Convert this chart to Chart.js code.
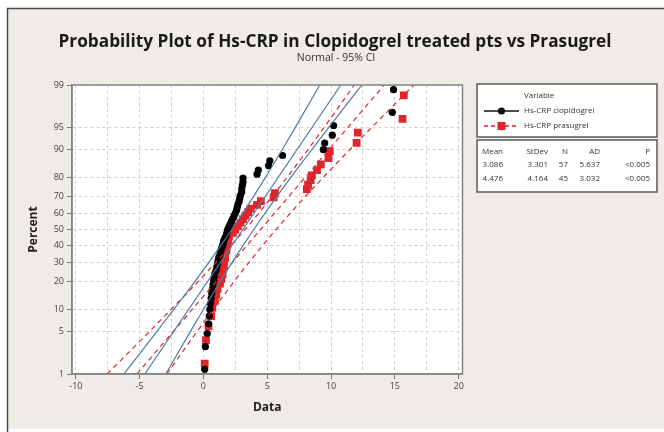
<!DOCTYPE html>
<html><head><meta charset="utf-8">
<script src="https://cdn.jsdelivr.net/npm/chart.js@4.4.1/dist/chart.umd.min.js"></script>
<style>html,body{margin:0;padding:0;background:#fff;}canvas{display:block;}</style>
</head><body>
<canvas id="c" width="664" height="432"></canvas>
<script>
// ---- data ----
const seriesNames = ['Hs-CRP clopidogrel', 'Hs-CRP prasugrel'];
const clopidogrelValues = [0.1,0.15,0.3,0.4,0.45,0.5,0.55,0.6,0.65,0.7,0.75,0.8,0.85,0.9,1.0,1.05,1.1,1.15,1.2,1.3,1.35,1.4,1.5,1.55,1.6,1.7,1.8,1.85,1.9,2.0,2.1,2.2,2.3,2.4,2.5,2.6,2.65,2.7,2.8,2.85,2.9,3.0,3.0,3.05,3.1,3.1,4.2,4.3,5.1,5.2,6.2,9.4,9.5,10.1,10.2,14.8,14.9];
const prasugrelValues = [0.1,0.2,0.4,0.6,0.7,0.9,1.0,1.1,1.3,1.4,1.5,1.5,1.6,1.6,1.7,1.7,1.8,1.8,1.9,1.95,2.0,2.3,2.5,2.7,2.9,3.1,3.3,3.5,3.7,4.2,4.5,5.5,5.6,8.1,8.2,8.4,8.5,8.9,9.2,9.8,9.9,12.0,12.1,15.6,15.7];
const percentTicks = [1,5,10,20,30,40,50,60,70,80,90,95,99];
const xTickValues = [-10,-7.5,-5,-2.5,0,2.5,5,7.5,10,12.5,15,17.5,20];
const statHeaders = ['Mean','StDev','N','AD','P'];
const statMeans = [3.086, 4.476];
const statStDevs = [3.301, 4.164];
const statNs = [57, 45];
const statADs = ['5.637', '3.032'];
const statPs = ['<0.005', '<0.005'];

// ---- normal quantile (Acklam) ----
function normInv(p){
  const a=[-3.969683028665376e+01,2.209460984245205e+02,-2.759285104469687e+02,1.383577518672690e+02,-3.066479806614716e+01,2.506628277459239e+00];
  const b=[-5.447609879822406e+01,1.615858368580409e+02,-1.556989798598866e+02,6.680131188771972e+01,-1.328068155288572e+01];
  const c=[-7.784894002430293e-03,-3.223964580411365e-01,-2.400758277161838e+00,-2.549732539343734e+00,4.374664141464968e+00,2.938163982698783e+00];
  const d=[7.784695709041462e-03,3.224671290700398e-01,2.445134137142996e+00,3.754408661907416e+00];
  const pl=0.02425, ph=1-pl; let q,r;
  if(p<pl){q=Math.sqrt(-2*Math.log(p));return (((((c[0]*q+c[1])*q+c[2])*q+c[3])*q+c[4])*q+c[5])/((((d[0]*q+d[1])*q+d[2])*q+d[3])*q+1);}
  if(p<=ph){q=p-0.5;r=q*q;return (((((a[0]*r+a[1])*r+a[2])*r+a[3])*r+a[4])*r+a[5])*q/(((((b[0]*r+b[1])*r+b[2])*r+b[3])*r+b[4])*r+1);}
  q=Math.sqrt(-2*Math.log(1-p));return -(((((c[0]*q+c[1])*q+c[2])*q+c[3])*q+c[4])*q+c[5])/((((d[0]*q+d[1])*q+d[2])*q+d[3])*q+1);
}
const zMin = normInv(percentTicks[0]/100), zMax = normInv(percentTicks[percentTicks.length-1]/100);

// probability-plot positions (median ranks) for sorted values
function probPoints(vals){
  const n = vals.length;
  return vals.map((v,i)=>({x:v, y:normInv((i+1-0.3)/(n+0.4))}));
}
// fitted normal line and 95% CI from the table's Mean / StDev / N
function fitLine(k){
  return [zMin,zMax].map(z=>({x:statMeans[k]+statStDevs[k]*z, y:z}));
}
function ciLine(k, sign){
  const pts=[]; const steps=40;
  for(let j=0;j<=steps;j++){
    const z = zMin+(zMax-zMin)*j/steps;
    const se = statStDevs[k]*Math.sqrt(1/statNs[k] + z*z/(2*statNs[k]));
    pts.push({x:statMeans[k]+statStDevs[k]*z + sign*1.96*se, y:z});
  }
  return pts;
}

const BLUE='#4f7ca6', RED='#e0262a', FONT='"Open Sans", "Noto Sans", sans-serif';
const lineDs = (data,color,dash)=>({type:'scatter',data,showLine:true,borderColor:color,borderWidth:1.2,borderDash:dash,pointRadius:0,fill:false,tension:0});

const bgPlugin = {
  id:'bg',
  beforeDraw(chart){
    const ctx=chart.ctx, a=chart.chartArea;
    ctx.save();
    ctx.fillStyle='#ffffff'; ctx.fillRect(0,0,664,432);
    ctx.fillStyle='#efece7'; ctx.fillRect(8,9,656,420);
    ctx.strokeStyle='#4a4a4a'; ctx.lineWidth=1.5;
    ctx.beginPath(); ctx.moveTo(7.5,432); ctx.lineTo(7.5,8.5); ctx.lineTo(664,8.5); ctx.stroke();
    ctx.fillStyle='#ffffff'; ctx.fillRect(a.left,a.top,a.right-a.left,a.bottom-a.top);
    ctx.restore();
  },
  afterDraw(chart){
    const ctx=chart.ctx, a=chart.chartArea;
    ctx.save();
    ctx.strokeStyle='#858585'; ctx.lineWidth=1.5;
    ctx.strokeRect(a.left,a.top,a.right-a.left,a.bottom-a.top);
    // title
    const title='Probability Plot of Hs-CRP in Clopidogrel treated pts vs Prasugrel';
    ctx.font='bold 20px '+FONT;
    let s=20*553/ctx.measureText(title).width;
    ctx.font='bold '+s.toFixed(2)+'px '+FONT;
    ctx.fillStyle='#1a1a1a'; ctx.textAlign='center'; ctx.textBaseline='alphabetic';
    ctx.fillText(title,335,47);
    ctx.font='10.5px '+FONT; ctx.fillStyle='#333';
    ctx.fillText('Normal - 95% CI',336,61);
    // axis titles
    ctx.font='bold 12px '+FONT; ctx.fillStyle='#222'; ctx.textBaseline='middle';
    ctx.fillText('Data',(a.left+a.right)/2,408);
    ctx.save(); ctx.translate(34,(a.top+a.bottom)/2); ctx.rotate(-Math.PI/2);
    ctx.fillText('Percent',0,0); ctx.restore();
    // legend box
    ctx.fillStyle='#ffffff'; ctx.fillRect(477,84,180,53);
    ctx.strokeStyle='#5a5a5a'; ctx.lineWidth=1.5; ctx.strokeRect(477,84,180,53);
    ctx.font='8px '+FONT; ctx.fillStyle='#333'; ctx.textAlign='left';
    ctx.fillText('Variable',524,96);
    const legY=[111,126];
    const lcol=['#111',RED];
    for(let k=0;k<2;k++){
      ctx.strokeStyle=lcol[k]; ctx.lineWidth=1.3; ctx.setLineDash(k?[4,3]:[]);
      ctx.beginPath(); ctx.moveTo(484,legY[k]); ctx.lineTo(519,legY[k]); ctx.stroke(); ctx.setLineDash([]);
      ctx.fillStyle=lcol[k];
      if(k===0){ctx.beginPath(); ctx.arc(501.5,legY[k],3.6,0,Math.PI*2); ctx.fill();}
      else ctx.fillRect(497.5,legY[k]-4,8,8);
      ctx.fillStyle='#333'; ctx.fillText(seriesNames[k],524,legY[k]);
    }
    // stats box
    ctx.fillStyle='#ffffff'; ctx.fillRect(477,140,180,52);
    ctx.strokeStyle='#5a5a5a'; ctx.lineWidth=1.5; ctx.strokeRect(477,140,180,52);
    const colR=[503,548,568,600,650];
    ctx.textAlign='right'; ctx.fillStyle='#333';
    statHeaders.forEach((h,i)=>ctx.fillText(h,colR[i],152));
    for(let k=0;k<2;k++){
      const row=[statMeans[k].toFixed(3),statStDevs[k].toFixed(3),String(statNs[k]),statADs[k],statPs[k]];
      row.forEach((t,i)=>ctx.fillText(t,colR[i],165+k*14));
    }
    ctx.restore();
  }
};

new Chart(document.getElementById('c'),{
  type:'scatter',
  data:{datasets:[
    lineDs(ciLine(0,-1),BLUE,[]),
    lineDs(ciLine(0,1),BLUE,[]),
    lineDs(fitLine(0),BLUE,[]),
    lineDs(ciLine(1,-1),RED,[5,4]),
    lineDs(ciLine(1,1),RED,[5,4]),
    lineDs(fitLine(1),RED,[5,4]),
    {label:seriesNames[0],data:probPoints(clopidogrelValues),pointStyle:'circle',pointRadius:3.6,backgroundColor:'#000',borderColor:'#000',borderWidth:0,showLine:false},
    {label:seriesNames[1],data:probPoints(prasugrelValues),pointStyle:'rect',pointRadius:5.5,backgroundColor:RED,borderColor:RED,borderWidth:0,showLine:false}
  ]},
  options:{
    responsive:false, animation:false, devicePixelRatio:1,
    layout:{padding:{top:85,right:201.5,left:0,bottom:0}},
    plugins:{legend:{display:false},title:{display:false},tooltip:{enabled:false}},
    scales:{
      x:{type:'linear',min:-10.3,max:20.3,
        afterFit(s){s.height=58;},
        afterBuildTicks(s){s.ticks=xTickValues.map(v=>({value:v}));},
        ticks:{callback:(v)=> (v%5===0? String(v):''),color:'#444',font:{size:9,family:FONT},padding:2,maxRotation:0,autoSkip:false},
        grid:{color:'#cfcfcf',lineWidth:1,tickLength:5,tickColor:(c)=>(c.tick&&c.tick.value%5===0?'#777':'rgba(0,0,0,0)')},
        border:{color:'#858585',width:1.5,dash:[3,3]}
      },
      y:{type:'linear',min:zMin,max:zMax,
        afterFit(s){s.width=72;},
        afterBuildTicks(s){s.ticks=percentTicks.map(p=>({value:normInv(p/100)}));},
        ticks:{callback:(v,i)=>String(percentTicks[i]),color:'#444',font:{size:9,family:FONT},padding:3,autoSkip:false},
        grid:{color:'#cfcfcf',lineWidth:1,tickLength:5,tickColor:'#777'},
        border:{color:'#858585',width:1.5,dash:[3,3]}
      }
    }
  },
  plugins:[bgPlugin]
});
</script>
</body></html>
